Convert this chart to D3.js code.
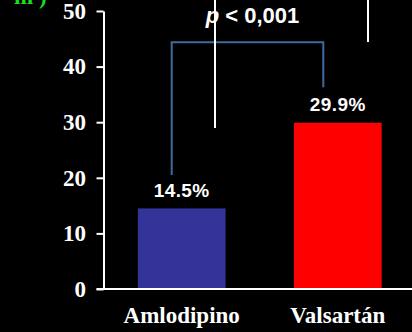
<!DOCTYPE html>
<html>
<head>
<meta charset="utf-8">
<script src="https://cdn.jsdelivr.net/npm/d3@7"></script>
<style>
  html, body { margin: 0; padding: 0; background: #000; }
  svg { display: block; }
</style>
</head>
<body>
<svg id="chart" width="412" height="332"></svg>
<script>
// Treatment groups and their percentages
const categories = ["Amlodipino", "Valsartán"];
const values = [14.5, 29.9];
const valueLabels = ["14.5%", "29.9%"];
const barColors = ["#333399", "#ff0000"];
const yTicks = [0, 10, 20, 30, 40, 50];
const pText = ["p", " < 0,001"];
// Significance bracket: top level and the two leg ends, in axis units
const bracketTop = 44.4;
const bracketEnds = [20.5, 36.3];

const svg = d3.select("#chart");
const W = 412, H = 332;

const y = d3.scaleLinear().domain([0, 50]).range([289, 11]);
const x = d3.scaleBand().domain(categories).range([103.5, 416])
  .paddingInner(0.438).paddingOuter(0.22);

svg.append("rect").attr("width", W).attr("height", H).attr("fill", "#000");

// Axis title (runs off the top edge)
svg.append("text").attr("x", 14).attr("y", 4)
  .attr("fill", "#1edc1e").attr("font-family", "Liberation Serif, serif")
  .attr("font-weight", "bold").attr("font-size", 23)
  .text("m )");

// Bars
svg.selectAll("rect.bar").data(categories).join("rect")
  .attr("class", "bar")
  .attr("x", d => x(d))
  .attr("width", x.bandwidth())
  .attr("y", (d, i) => y(values[i]))
  .attr("height", (d, i) => y(0) - y(values[i]))
  .attr("fill", (d, i) => barColors[i]);

// Y axis
const yAxis = svg.append("g").attr("transform", "translate(103.5,0)")
  .call(d3.axisLeft(y).tickValues(yTicks).tickSize(7).tickSizeOuter(0).tickPadding(10.5));
yAxis.select(".domain").attr("stroke", "#fff").attr("stroke-width", 2);
yAxis.selectAll(".tick line").attr("stroke", "#fff").attr("stroke-width", 2);
yAxis.selectAll(".tick text").attr("fill", "#fff")
  .attr("font-family", "Liberation Serif, 'Times New Roman', serif")
  .attr("font-weight", "bold").attr("font-size", 23);

// X axis baseline
svg.append("line").attr("x1", 96.5).attr("x2", W).attr("y1", y(0)).attr("y2", y(0))
  .attr("stroke", "#fff").attr("stroke-width", 2);

// Category labels
svg.selectAll("text.cat").data(categories).join("text")
  .attr("class", "cat")
  .attr("x", d => x(d) + x.bandwidth() / 2)
  .attr("y", 323)
  .attr("text-anchor", "middle")
  .attr("fill", "#fff")
  .attr("font-family", "Liberation Serif, 'Times New Roman', serif")
  .attr("font-weight", "bold").attr("font-size", 23)
  .text(d => d);

// Value labels
svg.selectAll("text.val").data(categories).join("text")
  .attr("class", "val")
  .attr("x", d => x(d) + x.bandwidth() / 2)
  .attr("y", (d, i) => y(values[i]) - 11.5)
  .attr("text-anchor", "middle")
  .attr("fill", "#fff")
  .attr("font-family", "Liberation Sans, Arial, sans-serif")
  .attr("font-weight", "bold").attr("font-size", 19)
  .attr("letter-spacing", 0.4)
  .text((d, i) => valueLabels[i]);

// Significance bracket
const bx0 = x(categories[0]) + x.bandwidth() / 2 - 10;
const bx1 = x(categories[1]) + x.bandwidth() / 2 - 14.5;
svg.append("path")
  .attr("d", `M${bx0},${y(bracketEnds[0])}V${y(bracketTop)}H${bx1}V${y(bracketEnds[1])}`)
  .attr("fill", "none").attr("stroke", "#3d6c9e").attr("stroke-width", 2);

// Vertical white guide strokes
svg.append("line").attr("x1", 215).attr("x2", 215).attr("y1", 0).attr("y2", 128)
  .attr("stroke", "#fff").attr("stroke-width", 2);
svg.append("line").attr("x1", 368).attr("x2", 368).attr("y1", 0).attr("y2", 42)
  .attr("stroke", "#fff").attr("stroke-width", 2);

// p-value
const pt = svg.append("text").attr("x", 252.5).attr("y", 23)
  .attr("text-anchor", "middle").attr("fill", "#fff")
  .attr("font-family", "Liberation Sans, Arial, sans-serif")
  .attr("font-weight", "bold").attr("font-size", 22);
pt.append("tspan").attr("font-style", "italic").text(pText[0]);
pt.append("tspan").text(pText[1]);
</script>
</body>
</html>
